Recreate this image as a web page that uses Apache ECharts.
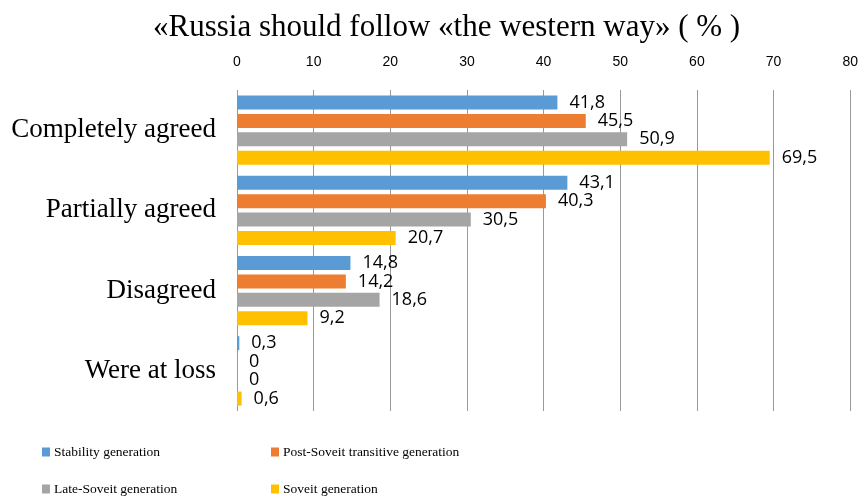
<!DOCTYPE html>
<html><head><meta charset="utf-8">
<script src="https://cdn.jsdelivr.net/npm/echarts@6/dist/echarts.min.js"></script>
<style>html,body{margin:0;padding:0;background:#fff}#c{width:861px;height:500px}</style>
</head><body><div id="c"></div>
<script>
const categories = ["Completely agreed", "Partially agreed", "Disagreed", "Were at loss"];
const seriesNames = ["Stability generation", "Post-Soveit transitive generation", "Late-Soveit generation", "Soveit generation"];
const stability = [41.8, 43.1, 14.8, 0.3];
const postSoveit = [45.5, 40.3, 14.2, 0];
const lateSoveit = [50.9, 30.5, 18.6, 0];
const soveit = [69.5, 20.7, 9.2, 0.6];
const xTicks = [0, 10, 20, 30, 40, 50, 60, 70, 80];
const colors = ["#5B9BD5", "#ED7D31", "#A5A5A5", "#FFC000"];
const values = [stability, postSoveit, lateSoveit, soveit];

const chart = echarts.init(document.getElementById('c'));
const legendPos = [[37, 440], [266, 440], [37, 477], [266, 477]];
chart.setOption({
  animation: false,
  title: {
    text: '«Russia should follow «the western way» ( % )',
    left: 148, top: 7,
    textStyle: {fontFamily: 'Liberation Serif', fontSize: 31, fontWeight: 'normal', color: '#000'}
  },
  legend: seriesNames.map((n, i) => ({
    data: [n], left: legendPos[i][0], top: legendPos[i][1],
    icon: 'rect', itemWidth: 8, itemHeight: 9, itemGap: 4,
    textStyle: {fontFamily: 'Liberation Serif', fontSize: 13.5, color: '#000', padding: [0,0,0,-1]}
  })),
  grid: {left: 237, right: 10, top: 90, bottom: 89, containLabel: false},
  xAxis: {
    type: 'value', position: 'top', min: 0, max: 80, interval: 10,
    axisLine: {show: false}, axisTick: {show: false},
    axisLabel: {fontFamily: 'Liberation Sans', fontSize: 14, color: '#000', margin: 21,
      formatter: v => xTicks.includes(v) ? String(v) : ''},
    splitLine: {show: true, lineStyle: {color: '#999', width: 1}}
  },
  yAxis: {
    type: 'category', data: categories, inverse: true,
    axisLine: {show: false}, axisTick: {show: false},
    axisLabel: {fontFamily: 'Liberation Serif', fontSize: 27, color: '#000', margin: 21}
  },
  series: seriesNames.map((n, i) => ({
    name: n, type: 'bar', data: values[i],
    barWidth: 14, barGap: '32%', barCategoryGap: '13%',
    itemStyle: {color: colors[i]},
    label: {show: true, position: 'right', distance: 12,
      fontFamily: 'Open Sans', fontSize: 18, color: '#000',
      formatter: p => String(p.value).replace('.', ',')}
  }))
});
</script></body></html>
